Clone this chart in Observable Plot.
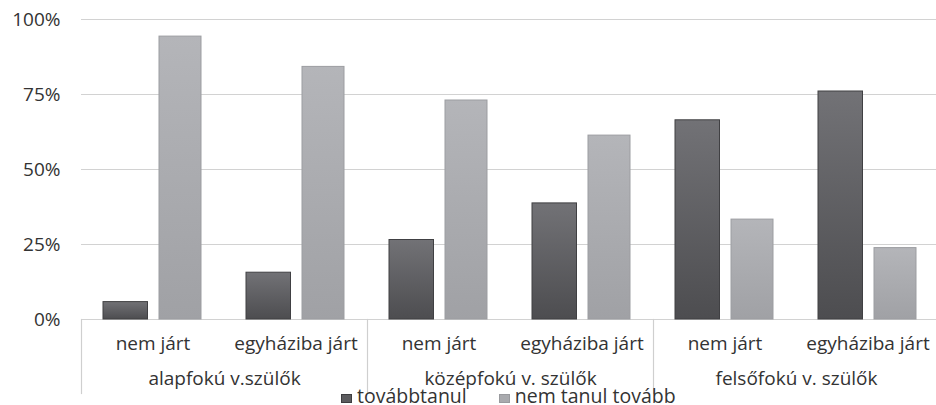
<!DOCTYPE html>
<html><head><meta charset="utf-8">
<script src="https://cdn.jsdelivr.net/npm/d3@7"></script>
<script src="https://cdn.jsdelivr.net/npm/@observablehq/plot@0.6"></script>
<style>
body{margin:0;background:#fff;font-family:"Open Sans",sans-serif;}
#wrap{position:relative;width:936px;height:405px;overflow:hidden;}
#legend{position:absolute;left:341px;top:385.5px;font-size:19.5px;color:#333;line-height:20px;white-space:nowrap;}
#legend span.item{display:inline-block;margin-right:32px;}
#legend i{display:inline-block;width:9px;height:7px;margin-right:5px;vertical-align:0px;}
</style></head><body>
<div id="wrap"><div id="chart"></div><div id="legend"></div></div>
<script>
const groups = ["alapfokú v.szülők", "középfokú v. szülők", "felsőfokú v. szülők"];
const subs = ["nem járt", "egyháziba járt"];
const seriesNames = ["továbbtanul", "nem tanul tovább"];
const tovabbtanul = [0.058, 0.156, 0.265, 0.387, 0.664, 0.760];
const nemTanulTovabb = [0.943, 0.842, 0.730, 0.613, 0.333, 0.238];
const yTicks = [0, 0.25, 0.5, 0.75, 1];
const seriesColors = ["#5c5c5f", "#a9aaae"];

const rows = tovabbtanul.map((v, i) => ({
  group: groups[Math.floor(i / 2)],
  sub: subs[i % 2],
  a: v,
  b: nemTanulTovabb[i]
}));

const plot = Plot.plot({
  width: 936, height: 405,
  marginLeft: 80, marginRight: -3, marginTop: 19, marginBottom: 86,
  style: {fontFamily: "Open Sans", fontSize: "19px", color: "#333", background: "#fff"},
  fx: {domain: groups, padding: 0, label: null},
  x: {domain: subs, padding: 0, label: null},
  y: {domain: [0, 1], label: null},
  marks: [
    Plot.gridY(yTicks, {stroke: "#d2d2d2", strokeOpacity: 1, strokeWidth: 1.2}),
    Plot.ruleY([0], {stroke: "#d2d2d2", strokeWidth: 1.2}),
    Plot.frame({anchor: "left", stroke: "#cfcfcf", strokeWidth: 1.2, insetTop: 300, insetBottom: -74}),
    Plot.barY(rows, {fx: "group", x: "sub", y: "a", fill: "url(#gdark)", stroke: "#404043", strokeWidth: 1, insetLeft: 22, insetRight: 76.5}),
    Plot.barY(rows, {fx: "group", x: "sub", y: "b", fill: "url(#glight)", stroke: "#9c9da1", strokeWidth: 1, insetLeft: 78, insetRight: 23}),
    Plot.axisY(yTicks, {tickFormat: d3.format(".0%"), tickSize: 0, tickPadding: 21, fontSize: 19, label: null}),
    Plot.axisX({tickSize: 0, tickPadding: 17, fontSize: 19, label: null}),
    Plot.axisFx({anchor: "bottom", tickSize: 0, tickPadding: 52, fontSize: 19, label: null})
  ]
});

const svg = d3.select(plot);
const defs = svg.insert("defs", ":first-child");
const g1 = defs.append("linearGradient").attr("id", "gdark").attr("x1", 0).attr("y1", 0).attr("x2", 0).attr("y2", 1);
g1.append("stop").attr("offset", "0%").attr("stop-color", "#727276");
g1.append("stop").attr("offset", "100%").attr("stop-color", "#4d4d50");
const g2 = defs.append("linearGradient").attr("id", "glight").attr("x1", 0).attr("y1", 0).attr("x2", 0).attr("y2", 1);
g2.append("stop").attr("offset", "0%").attr("stop-color", "#b4b5b9");
g2.append("stop").attr("offset", "100%").attr("stop-color", "#a0a1a5");

document.getElementById("chart").appendChild(plot);

const legend = d3.select("#legend");
seriesNames.forEach((name, i) => {
  const item = legend.append("span").attr("class", "item");
  item.append("i").style("background", seriesColors[i]).style("border", "1px solid " + (i ? "#999a9e" : "#3d3d40"));
  item.append("span").text(name);
});
</script>
</body></html>
